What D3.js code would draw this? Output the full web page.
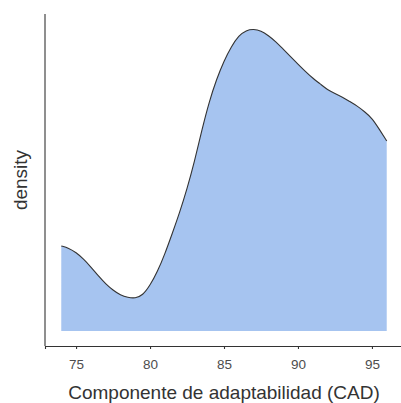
<!DOCTYPE html>
<html>
<head>
<meta charset="utf-8">
<script src="https://cdn.jsdelivr.net/npm/d3@7"></script>
<style>
  body { margin: 0; background: #fff; }
  text { font-family: "Liberation Sans", Arial, sans-serif; }
</style>
</head>
<body>
<div id="chart"></div>
<script>
// density estimate of CAD
var cadValues = [74, 74.5, 75, 75.5, 76, 76.5, 77, 77.5, 78, 78.5, 79, 79.5,
    80, 80.5, 81, 81.5, 82, 82.5, 83, 83.5, 84, 84.5, 85, 85.5, 86, 86.5,
    87, 87.5, 88, 88.5, 89, 89.5, 90, 90.5, 91, 91.5, 92, 92.5, 93, 93.5,
    94, 94.5, 95, 95.5, 96];
var densityValues = [0.0211, 0.0206, 0.0195, 0.0179, 0.0159, 0.0137, 0.0117,
    0.0101, 0.0089, 0.0083, 0.0081, 0.0088, 0.0113, 0.0147, 0.0191, 0.0242,
    0.0294, 0.0353, 0.0420, 0.0499, 0.0570, 0.0626, 0.0671, 0.0707, 0.0734,
    0.0747, 0.0750, 0.0746, 0.0734, 0.0719, 0.0700, 0.0682, 0.0663, 0.0645,
    0.0628, 0.0614, 0.0599, 0.0590, 0.0581, 0.0570, 0.0559, 0.0545, 0.0529,
    0.0501, 0.0472];
var xTicks = [75, 80, 85, 90, 95];
var xTitle = "Componente de adaptabilidad (CAD)";
var yTitle = "density";

function init(){
    var w = 401;
    var h = 403;
    var left = 45, right = 403, top = 14, bottom = 346;

    var data = cadValues.map(function(d, i){
        return {x: d, y: densityValues[i]};
    });

    var xExt = d3.extent(cadValues);
    var xPad = (xExt[1] - xExt[0]) * 0.05;
    var yMax = d3.max(densityValues);

    var x = d3.scaleLinear()
        .domain([xExt[0] - xPad, xExt[1] + xPad])
        .range([left, right]);
    var y = d3.scaleLinear()
        .domain([-yMax * 0.05, yMax * 1.05])
        .range([bottom, top]);

    var svg = d3.select("#chart")
        .append("svg")
        .attr("width", w)
        .attr("height", h);

    var area = d3.area()
        .curve(d3.curveBasis)
        .x(function(d){ return x(d.x); })
        .y0(y(0))
        .y1(function(d){ return y(d.y); });

    var line = d3.line()
        .curve(d3.curveBasis)
        .x(function(d){ return x(d.x); })
        .y(function(d){ return y(d.y); });

    svg.append("path")
        .datum(data)
        .attr("d", area)
        .attr("fill", "#a6c4f0");

    svg.append("path")
        .datum(data)
        .attr("d", line)
        .attr("fill", "none")
        .attr("stroke", "#333")
        .attr("stroke-width", 1.1);

    // x axis
    var xAxis = svg.append("g")
        .attr("transform", "translate(0," + bottom + ")")
        .call(d3.axisBottom(x).tickValues(xTicks).tickSize(3).tickPadding(10));
    xAxis.select(".domain").attr("stroke", "#333").attr("stroke-width", 1.1);
    xAxis.selectAll(".tick line").attr("stroke", "#333").attr("stroke-width", 1.1);
    xAxis.selectAll(".tick text")
        .attr("fill", "#4d4d4d")
        .attr("font-size", "13.5px")
        .attr("font-family", "Liberation Sans, Arial, sans-serif");

    // y axis, no ticks
    svg.append("line")
        .attr("x1", left).attr("x2", left)
        .attr("y1", top).attr("y2", bottom)
        .attr("stroke", "#333")
        .attr("stroke-width", 1.1);

    svg.append("text")
        .attr("x", (left + right) / 2)
        .attr("y", 398.5)
        .attr("text-anchor", "middle")
        .attr("font-size", "19px")
        .attr("fill", "#333")
        .text(xTitle);

    svg.append("text")
        .attr("transform", "translate(27," + (top + bottom) / 2 + ") rotate(-90)")
        .attr("text-anchor", "middle")
        .attr("font-size", "19px")
        .attr("fill", "#333")
        .text(yTitle);
}
window.onload = init;
</script>
</body>
</html>
